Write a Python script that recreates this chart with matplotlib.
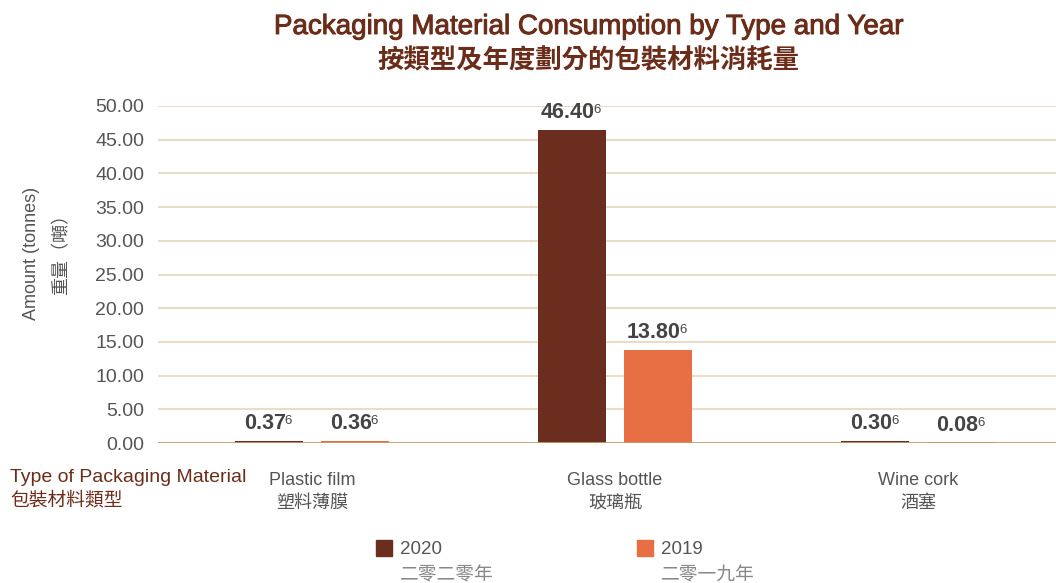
import matplotlib.pyplot as plt
import matplotlib.patheffects as pe
import numpy as np

plt.rcParams['font.family'] = ['Liberation Sans', 'Noto Sans CJK TC', 'DejaVu Sans']

# data
categories = ['Plastic film', 'Glass bottle', 'Wine cork']
categories_zh = ['塑料薄膜', '玻璃瓶', '酒塞']
vals_2020 = [0.37, 46.40, 0.30]
vals_2019 = [0.36, 13.80, 0.08]
years = ['2020', '2019']
years_zh = ['二零二零年', '二零一九年']
yticks = np.arange(0, 51, 5)

c2020 = '#6b2d1d'
c2019 = '#e86e43'
brown = '#6b2d1a'
grey = '#555555'

fig = plt.figure(figsize=(10.56, 5.83), dpi=100)
ax = fig.add_axes([0.1496, 0.2401, 0.8504, 0.5781])

x = np.arange(len(categories))
w = 0.224
off = 0.142
b1 = ax.bar(x - off, vals_2020, w, color=c2020, zorder=3)
b2 = ax.bar(x + off, vals_2019, w, color=c2019, zorder=3)

ax.set_xlim(-0.508, 2.455)
ax.set_ylim(0, 50)
ax.set_yticks(yticks)
ax.set_yticklabels(['%.2f' % v for v in yticks], fontsize=14, color=grey)
ax.tick_params(axis='y', length=0, pad=10)
ax.set_xticks([])
for s in ax.spines.values():
    s.set_visible(False)
for v in yticks[1:]:
    ax.axhline(v, color='#e9dcc8', lw=1.5, zorder=1)
ax.axhline(0, color='#c49a6c', lw=2, zorder=4)

fig.canvas.draw()
r = fig.canvas.get_renderer()
for bars, vals in [(b1, vals_2020), (b2, vals_2019)]:
    for b, v in zip(bars, vals):
        t = ax.annotate('%.2f' % v, (b.get_x() + b.get_width() / 2, v),
                        xytext=(-3, 5), textcoords='offset points',
                        ha='center', va='bottom', fontsize=15.5,
                        fontweight='bold', color='#444444', zorder=5)
        bb = t.get_window_extent(r)
        fig.text((bb.x1 - 1) / fig.bbox.width, (bb.y1 - 2) / fig.bbox.height, '6',
                 ha='left', va='top', fontsize=9.5, color='#444444')

# category labels
for i, (en, zh) in enumerate(zip(categories, categories_zh)):
    ax.text(i, -5.6, en, ha='center', va='center', fontsize=13, color=grey)
    ax.text(i, -8.9, zh, ha='center', va='center', fontsize=13, color=grey)

fig.text(10 / 1056, 1 - 478 / 583, 'Type of Packaging Material', ha='left', va='center',
         fontsize=14, color=brown)
fig.text(10 / 1056, 1 - 500 / 583, '包裝材料類型', ha='left', va='center',
         fontsize=13.5, color=brown)

fig.text(32 / 1056, 1 - 253 / 583, 'Amount (tonnes)', rotation=90, ha='center',
         va='center', fontsize=13, color=grey)
fig.text(62 / 1056, 1 - 250 / 583, '重量（噸）', rotation=90, ha='center',
         va='center', fontsize=13, color=grey)

fig.text(588 / 1056, 1 - 27 / 583, 'Packaging Material Consumption by Type and Year',
         ha='center', va='center', fontsize=20, color=brown,
         path_effects=[pe.withStroke(linewidth=0.7, foreground=brown)])
fig.text(588 / 1056, 1 - 61 / 583, '按類型及年度劃分的包裝材料消耗量',
         ha='center', va='center', fontsize=19, fontweight='bold', color=brown)

# legend
for sx, col, yr, zh in [(376, c2020, years[0], years_zh[0]), (637, c2019, years[1], years_zh[1])]:
    fig.patches.append(plt.Rectangle((sx / 1056, 1 - 556 / 583), 16 / 1056, 16 / 583,
                                     transform=fig.transFigure, color=col, figure=fig))
    fig.text((sx + 24) / 1056, 1 - 549 / 583, yr, ha='left', va='center',
             fontsize=13.5, color=grey)
    fig.text((sx + 24) / 1056, 1 - 576 / 583, zh, ha='left', va='center',
             fontsize=13.5, color='#888888')

fig.savefig('out.png', dpi=100)
